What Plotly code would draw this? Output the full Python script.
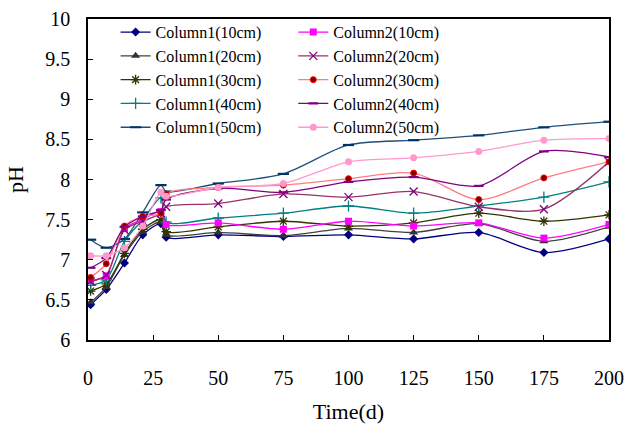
import plotly.graph_objects as go

days = [1, 7, 14, 21, 28, 30, 50, 75, 100, 125, 150, 175, 200]

c1_10 = [6.44, 6.63, 6.96, 7.31, 7.45, 7.28, 7.31, 7.29, 7.31, 7.26, 7.34, 7.09, 7.26]
c1_20 = [6.47, 6.66, 7.06, 7.35, 7.47, 7.31, 7.34, 7.30, 7.39, 7.34, 7.45, 7.23, 7.41]
c1_30 = [6.61, 6.70, 7.08, 7.38, 7.50, 7.35, 7.41, 7.48, 7.42, 7.46, 7.58, 7.48, 7.56]
c1_40 = [6.68, 6.75, 7.23, 7.50, 7.77, 7.47, 7.52, 7.58, 7.67, 7.58, 7.67, 7.78, 7.97]
c1_50 = [7.25, 7.15, 7.26, 7.59, 7.93, 7.85, 7.95, 8.07, 8.43, 8.49, 8.55, 8.65, 8.72]

c2_10 = [6.74, 6.80, 7.39, 7.50, 7.60, 7.44, 7.46, 7.38, 7.48, 7.42, 7.46, 7.27, 7.44]
c2_20 = [6.73, 6.81, 7.37, 7.48, 7.58, 7.66, 7.70, 7.82, 7.78, 7.85, 7.66, 7.63, 8.22]
c2_30 = [6.78, 6.95, 7.42, 7.54, 7.58, 7.82, 7.90, 7.93, 8.01, 8.08, 7.75, 8.02, 8.22]
c2_40 = [6.90, 7.02, 7.41, 7.54, 7.62, 7.75, 7.89, 7.84, 7.97, 8.03, 7.92, 8.35, 8.28]
c2_50 = [7.05, 7.05, 7.15, 7.42, 7.84, 7.79, 7.90, 7.95, 8.22, 8.27, 8.35, 8.49, 8.51]

x_ticks = [0, 25, 50, 75, 100, 125, 150, 175, 200]
y_ticks = [6, 6.5, 7, 7.5, 8, 8.5, 9, 9.5, 10]

FONT = "Liberation Serif"

series = [
    ("Column1(10cm)", c1_10, "#000080", dict(symbol="diamond", size=7, color="#000080"), "legend"),
    ("Column1(20cm)", c1_20, "#404040", dict(symbol="triangle-up", size=8, color="#333333"), "legend"),
    ("Column1(30cm)", c1_30, "#333300", dict(symbol="asterisk-open", size=8, color="#333300", line=dict(width=1.3)), "legend"),
    ("Column1(40cm)", c1_40, "#008080", dict(symbol="cross-thin-open", size=8, color="#008080", line=dict(width=1.3)), "legend"),
    ("Column1(50cm)", c1_50, "#1F4E79", dict(symbol="line-ew-open", size=8, color="#003366", line=dict(width=2.2)), "legend"),
    ("Column2(10cm)", c2_10, "#FF00FF", dict(symbol="square", size=7, color="#FF00FF"), "legend2"),
    ("Column2(20cm)", c2_20, "#993366", dict(symbol="x-thin-open", size=8, color="#800080", line=dict(width=1.3)), "legend2"),
    ("Column2(30cm)", c2_30, "#FF7C80", dict(symbol="circle", size=6, color="#800000", line=dict(width=1, color="#FF0000")), "legend2"),
    ("Column2(40cm)", c2_40, "#800080", dict(symbol="line-ew-open", size=7, color="#800080", line=dict(width=2.2)), "legend2"),
    ("Column2(50cm)", c2_50, "#FF99CC", dict(symbol="circle", size=7, color="#FF99CC"), "legend2"),
]

fig = go.Figure()
for name, vals, lc, mk, lg in series:
    fig.add_trace(go.Scatter(
        x=days, y=vals, name=name, mode="lines+markers",
        line=dict(color=lc, width=1.3, shape="spline", smoothing=0.8),
        marker=mk, legend=lg,
    ))

legend_common = dict(
    font=dict(family=FONT, size=16, color="black"),
    bgcolor="rgba(0,0,0,0)", borderwidth=0,
    yanchor="top", y=1.012, xanchor="left", tracegroupgap=0,
    orientation="v",
)

fig.update_layout(
    width=629, height=427,
    margin=dict(l=88, r=20, t=19, b=87, autoexpand=False),
    paper_bgcolor="white", plot_bgcolor="white",
    font=dict(family=FONT, size=19, color="black"),
    showlegend=True,
    legend=dict(x=0.053, **legend_common),
    legend2=dict(x=0.394, **legend_common),
    xaxis=dict(
        range=[0, 200], tickvals=x_ticks, ticktext=[str(v) for v in x_ticks],
        ticks="inside", ticklen=5, tickwidth=1, tickcolor="black",
        showline=True, linecolor="black", linewidth=1.5, mirror=True,
        showgrid=False, zeroline=False, automargin=False,
        tickfont=dict(family=FONT, size=20),
        ticklabelstandoff=19,
        title=dict(text="Time(d)", font=dict(family=FONT, size=22), standoff=16),
    ),
    yaxis=dict(
        range=[6, 10], tickvals=y_ticks, ticktext=[("%g" % v) for v in y_ticks],
        ticks="inside", ticklen=5, tickwidth=1, tickcolor="black",
        showline=True, linecolor="black", linewidth=1.5, mirror=True,
        showgrid=False, zeroline=False, automargin=False,
        tickfont=dict(family=FONT, size=20),
        ticklabelstandoff=12,
        title=dict(text="pH", font=dict(family=FONT, size=22), standoff=16),
    ),
)

fig.write_html("out.html")
